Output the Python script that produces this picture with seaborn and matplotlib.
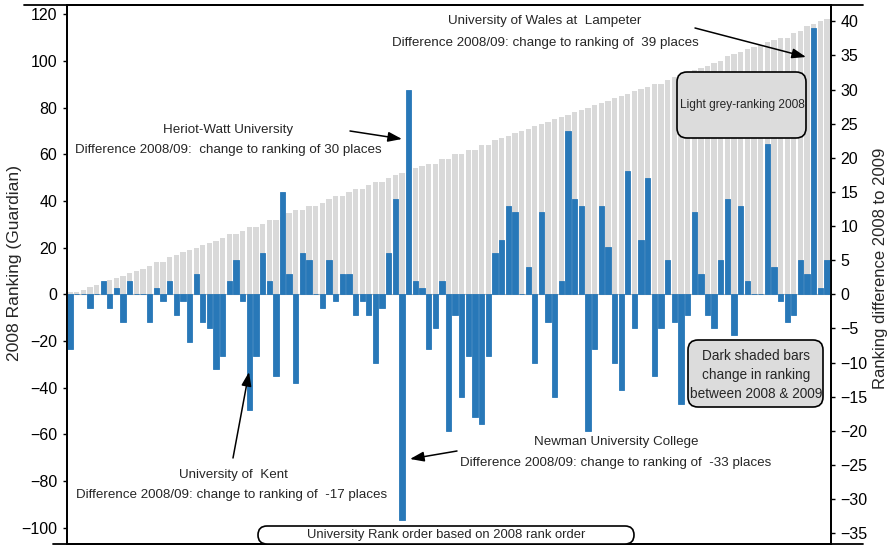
import matplotlib
matplotlib.use('Agg')
import matplotlib.pyplot as plt
import matplotlib.transforms as mtransforms
from matplotlib.patches import FancyBboxPatch
from matplotlib.lines import Line2D
import seaborn as sns
import numpy as np
import pandas as pd

# 2008 Guardian ranking (light grey bars), in 2008 rank order
rank_2008 = [1, 1, 2, 3, 4, 5, 6, 7, 8, 9, 10, 11, 12, 14, 14, 16, 17, 18, 19, 20,
             21, 22, 23, 24, 26, 26, 27, 29, 29, 30, 32, 32, 33, 35, 36, 36, 38, 38, 39, 41,
             42, 42, 44, 45, 45, 47, 48, 48, 50, 51, 52, 52, 54, 55, 56, 56, 58, 58, 60, 60,
             62, 62, 64, 64, 66, 67, 68, 69, 70, 71, 72, 73, 74, 75, 76, 77, 78, 79, 80, 81,
             82, 83, 84, 85, 86, 87, 88, 89, 90, 90, 92, 93, 94, 95, 96, 97, 98, 99, 100, 102,
             103, 104, 105, 106, 107, 108, 109, 110, 110, 112, 113, 115, 116, 117, 118]

# Change in ranking 2008 -> 2009 (dark bars, right axis)
rank_change = [-8, 0, 0, -2, 0, 2, -2, 1, -4, 2, 0, 0, -4, 1, -1, 2, -3, -1, -7, 3,
               -4, -5, -11, -9, 2, 5, -1, -17, -9, 6, 2, -12, 15, 3, -13, 6, 5, 0, -2, 5,
               -1, 3, 3, -3, -1, -3, -10, -2, 6, 14, -33, 30, 2, 1, -8, -5, 2, -20, -3, -15,
               -9, -18, -19, -9, 6, 8, 13, 12, 0, 4, -10, 12, -4, -15, 2, 24, 14, 13, -20, -8,
               13, 7, -10, -14, 18, -5, 8, 17, -12, -5, 5, -4, -16, -3, 12, 3, -3, -5, 5, 14,
               -6, 13, 2, 0, 0, 22, 4, -1, -4, -3, 5, 3, 39, 1, 5]

left_ticks = list(range(-100, 121, 20))
right_ticks = list(range(-35, 41, 5))

sns.set_theme(style='ticks')
plt.rcParams['font.family'] = ['Liberation Sans', 'DejaVu Sans']

W, H = 891, 547
GREY = '#d9d9d9'
BLUE = '#2878b8'

fig = plt.figure(figsize=(W / 100, H / 100), dpi=100)
ax = fig.add_axes([67 / W, 1 - 544 / H, (831 - 67) / W, (544 - 5) / H])
ax2 = ax.twinx()

df = pd.DataFrame({'uni': np.arange(len(rank_2008)),
                   'rank': rank_2008, 'change': rank_change})

ax.axhline(0, color='#b5b5b5', lw=0.8, zorder=0.5)
sns.barplot(data=df, x='uni', y='rank', color=GREY, saturation=1, width=0.8,
            errorbar=None, linewidth=0, ax=ax)
sns.barplot(data=df, x='uni', y='change', color=BLUE, saturation=1, width=0.8,
            errorbar=None, linewidth=0.6, edgecolor=BLUE, ax=ax2)

ratio = 2.925
ax.set_ylim(-107, 124)
ax2.set_ylim(-107 / ratio, 124 / ratio)
for a in (ax, ax2):
    a.set_xlim(-0.45, len(rank_2008) - 0.4)
    a.set_xticks([])
    a.set_xlabel('')
    a.set_ylabel('')
    for s in a.spines.values():
        s.set_linewidth(1.3)
        s.set_color('black')
    a.tick_params(axis='y', direction='out', length=3, width=1,
                  labelsize=11.5, pad=4, colors='black')
ax.set_yticks(left_ticks)
ax2.set_yticks(right_ticks)

def fx(x):
    return x / W

def fy(y):
    return 1 - y / H

fig.text(fx(15), fy(263), '2008 Ranking (Guardian)', rotation=90,
         ha='center', va='center', fontsize=12.6)
fig.text(fx(880), fy(268), 'Ranking difference 2008 to 2009', rotation=90,
         ha='center', va='center', fontsize=12)

afs = 9.6
def note(x, y, s, fs=afs):
    fig.text(fx(x), fy(y), s, ha='center', va='center', fontsize=fs, zorder=5)

note(545, 21, 'University of Wales at  Lampeter')
note(545, 43, 'Difference 2008/09: change to ranking of  39 places')
note(228, 130, 'Heriot-Watt University')
note(228, 150, 'Difference 2008/09:  change to ranking of 30 places')
note(233, 475, 'University of  Kent')
note(232, 495, 'Difference 2008/09: change to ranking of  -17 places')
note(616, 442, 'Newman University College')
note(616, 463, 'Difference 2008/09: change to ranking of  -33 places')

def arrow(x0, y0, x1, y1):
    ax2.annotate('', xy=(fx(x1), fy(y1)), xytext=(fx(x0), fy(y0)),
                 xycoords='figure fraction', textcoords='figure fraction',
                 arrowprops=dict(arrowstyle='-|>,head_length=0.7,head_width=0.25',
                                 color='black', lw=1.1, shrinkA=0, shrinkB=0))

arrow(695, 28, 806, 57)
arrow(350, 131, 402, 139)
arrow(233, 458, 249, 372)
arrow(457, 451, 410, 459)

ident = mtransforms.IdentityTransform()

def box(x0, y0, x1, y1, fc, r):
    p = FancyBboxPatch((x0, H - y1), x1 - x0, y1 - y0,
                       boxstyle=f'round,pad=0,rounding_size={r}',
                       transform=ident, facecolor=fc, edgecolor='black',
                       lw=1.2, zorder=4)
    fig.add_artist(p)

box(677, 72, 806, 138, '#dcdcdc', 10)
note(742, 105, 'Light grey-ranking 2008', fs=8.6)

box(688, 340, 823, 407, '#dcdcdc', 10)
note(756, 356, 'Dark shaded bars', fs=9.8)
note(756, 375, 'change in ranking', fs=9.8)
note(756, 394, 'between 2008 & 2009', fs=9.8)

box(258, 526, 634, 544, 'white', 9)
note(446, 535, 'University Rank order based on 2008 rank order', fs=9.4)

fig.add_artist(Line2D([24, 863], [H - 5, H - 5], transform=ident, color='black', lw=1.3))
fig.add_artist(Line2D([53, 863], [H - 544, H - 544], transform=ident, color='black', lw=1.3))

fig.savefig('out.png', dpi=100)
